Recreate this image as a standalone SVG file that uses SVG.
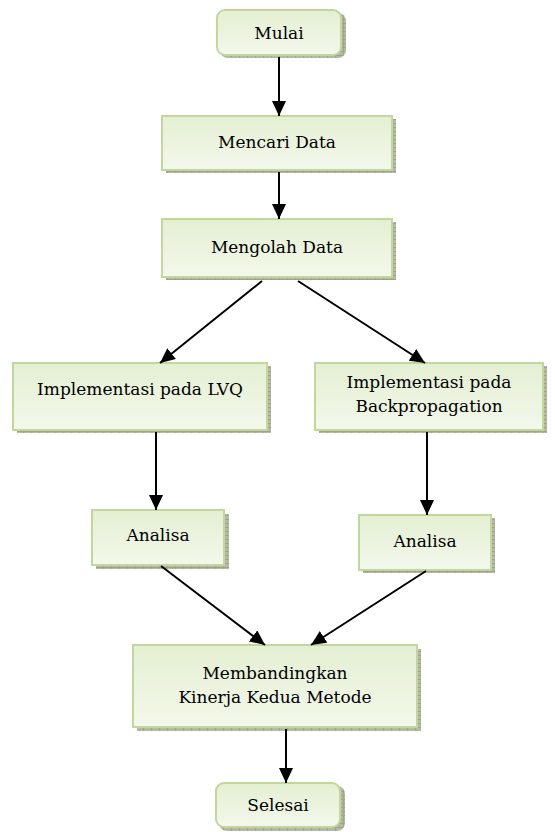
<svg xmlns="http://www.w3.org/2000/svg" width="555" height="832" viewBox="0 0 555 832">
<style>
.box{fill:url(#g);stroke:#c3d69b;stroke-width:2}
.sh{fill:url(#hatch)}
text{font-family:'DejaVu Serif',serif;font-size:17px;fill:#000;text-anchor:middle}
.c line{stroke:#000;stroke-width:2;marker-end:url(#ah)}
</style>
<defs>
<linearGradient id="g" x1="0" y1="0" x2="0" y2="1">
<stop offset="0" stop-color="#e4efd2"/>
<stop offset="1" stop-color="#f3f8ec"/>
</linearGradient>
<pattern id="hatch" width="8" height="4" patternUnits="userSpaceOnUse">
<rect width="8" height="4" fill="#9ea48c"/>
<rect x="0" y="0" width="7" height="3" fill="#b4b9a3"/>
</pattern>
<marker id="ah" markerWidth="15" markerHeight="14" refX="15" refY="7" orient="auto" markerUnits="userSpaceOnUse" viewBox="0 0 15 14">
<path d="M0,0 L15,7 L0,14 z" fill="#000"/>
</marker>
</defs>
<g id="mulai">
<rect class="sh" x="220" y="13" width="126" height="45" rx="8"/>
<rect class="box" x="217" y="10" width="124" height="45" rx="8"/>
<text x="279" y="39">Mulai</text>
</g>
<g id="mencari">
<rect class="sh" x="166" y="119" width="230" height="54"/>
<rect class="box" x="162" y="116" width="230" height="54"/>
<text x="277" y="148">Mencari Data</text>
</g>
<g id="mengolah">
<rect class="sh" x="166" y="222" width="230" height="58"/>
<rect class="box" x="162" y="219" width="230" height="58"/>
<text x="277" y="253">Mengolah Data</text>
</g>
<g id="lvq">
<rect class="sh" x="17" y="366" width="254" height="67"/>
<rect class="box" x="13" y="363" width="254" height="67"/>
<text x="140" y="395">Implementasi pada LVQ</text>
</g>
<g id="bp">
<rect class="sh" x="319" y="366" width="228" height="67"/>
<rect class="box" x="315" y="363" width="228" height="67"/>
<text x="429" y="388">Implementasi pada</text>
<text x="429" y="412">Backpropagation</text>
</g>
<g id="analisa1">
<rect class="sh" x="96" y="514" width="133" height="55"/>
<rect class="box" x="92" y="510" width="132" height="55"/>
<text x="158" y="541">Analisa</text>
</g>
<g id="analisa2">
<rect class="sh" x="363" y="518" width="132" height="55"/>
<rect class="box" x="359" y="515" width="132" height="55"/>
<text x="425" y="547">Analisa</text>
</g>
<g id="membandingkan">
<rect class="sh" x="137" y="649" width="284" height="82"/>
<rect class="box" x="133" y="645" width="284" height="82"/>
<text x="275" y="679">Membandingkan</text>
<text x="275" y="703">Kinerja Kedua Metode</text>
</g>
<g id="selesai">
<rect class="sh" x="219" y="786" width="126" height="45" rx="8"/>
<rect class="box" x="216" y="783" width="124" height="44" rx="8"/>
<text x="278" y="811">Selesai</text>
</g>
<g class="c" id="connectors">
<line x1="279" y1="57" x2="279" y2="116"/>
<line x1="279" y1="172" x2="279" y2="219"/>
<line x1="262" y1="281" x2="160" y2="363"/>
<line x1="298" y1="281" x2="425" y2="363"/>
<line x1="156" y1="432" x2="156" y2="510"/>
<line x1="427" y1="432" x2="427" y2="515"/>
<line x1="161" y1="566" x2="265" y2="645"/>
<line x1="426" y1="571" x2="311" y2="645"/>
<line x1="286" y1="729" x2="286" y2="783"/>
</g>
</svg>
